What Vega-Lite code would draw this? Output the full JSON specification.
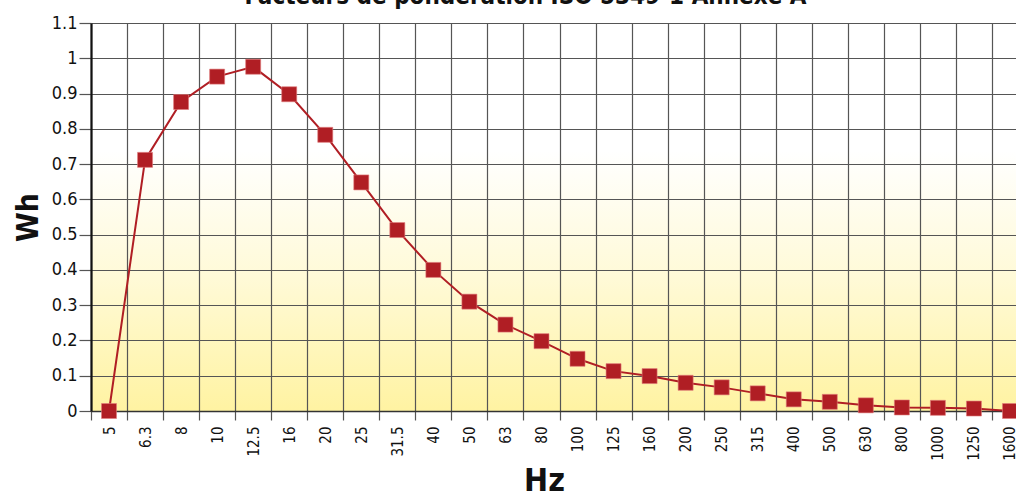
{
  "$schema": "https://vega.github.io/schema/vega-lite/v6.json",
  "autosize": {"type": "none"},
  "padding": {"left": 91, "top": 23, "right": 0, "bottom": 85},
  "width": 925,
  "height": 388,
  "background": "white",
  "title": {
    "text": "Facteurs de pondération ISO 5349-1 Annexe A",
    "font": "DejaVu Sans Condensed, sans-serif",
    "fontSize": 24,
    "fontWeight": "bold",
    "color": "#111111",
    "anchor": "middle",
    "offset": 0,
    "dx": -28,
    "dy": -5
  },
  "config": {
    "view": {
      "stroke": null,
      "fill": {
        "gradient": "linear",
        "x1": 0, "y1": 0, "x2": 0, "y2": 1,
        "stops": [
          {"offset": 0, "color": "#ffffff"},
          {"offset": 0.33, "color": "#ffffff"},
          {"offset": 0.65, "color": "#fffad8"},
          {"offset": 1, "color": "#fff3a2"}
        ]
      }
    },
    "axis": {
      "labelFont": "DejaVu Sans Condensed, sans-serif",
      "titleFont": "DejaVu Sans Condensed, sans-serif",
      "labelColor": "#111111",
      "titleColor": "#111111",
      "gridColor": "#555555",
      "gridWidth": 1.2,
      "gridOpacity": 1,
      "tickColor": "#555555",
      "tickWidth": 1.2
    }
  },
  "data": {
    "values": [
      {"hz": "5", "wh": 0},
      {"hz": "6.3", "wh": 0.712},
      {"hz": "8", "wh": 0.876},
      {"hz": "10", "wh": 0.948},
      {"hz": "12.5", "wh": 0.976},
      {"hz": "16", "wh": 0.898},
      {"hz": "20", "wh": 0.783},
      {"hz": "25", "wh": 0.648},
      {"hz": "31.5", "wh": 0.513},
      {"hz": "40", "wh": 0.4},
      {"hz": "50", "wh": 0.31},
      {"hz": "63", "wh": 0.245},
      {"hz": "80", "wh": 0.198},
      {"hz": "100", "wh": 0.148},
      {"hz": "125", "wh": 0.113},
      {"hz": "160", "wh": 0.099},
      {"hz": "200", "wh": 0.08},
      {"hz": "250", "wh": 0.067},
      {"hz": "315", "wh": 0.05},
      {"hz": "400", "wh": 0.033},
      {"hz": "500", "wh": 0.026},
      {"hz": "630", "wh": 0.016},
      {"hz": "800", "wh": 0.01},
      {"hz": "1000", "wh": 0.009},
      {"hz": "1250", "wh": 0.007},
      {"hz": "1600", "wh": 0}
    ]
  },
  "encoding": {
    "x": {
      "field": "hz",
      "type": "ordinal",
      "sort": null,
      "scale": {"type": "band", "range": [0, 937], "paddingInner": 0, "paddingOuter": 0},
      "axis": {
        "title": "Hz",
        "titleFontSize": 32,
        "titleFontWeight": "bold",
        "titleX": 453,
        "titleY": 54,
        "titleBaseline": "top",
        "labelAngle": -90,
        "labelFontSize": 15,
        "labelFontWeight": 500,
        "labelPadding": 6,
        "tickBand": "extent",
        "tickSize": 9,
        "grid": true,
        "domainColor": "#333333",
        "domainWidth": 1.5
      }
    },
    "y": {
      "field": "wh",
      "type": "quantitative",
      "scale": {"domain": [0, 1.1], "nice": false, "zero": true},
      "axis": {
        "title": "Wh",
        "titleFontSize": 30,
        "titleFontWeight": "bold",
        "titlePadding": 8,
        "values": [0, 0.1, 0.2, 0.3, 0.4, 0.5, 0.6, 0.7, 0.8, 0.9, 1, 1.1],
        "format": "~g",
        "labelFontSize": 18,
        "labelFontWeight": 500,
        "labelPadding": 2,
        "tickSize": 12,
        "domainColor": "#111111",
        "domainWidth": 2.2,
        "grid": true
      }
    }
  },
  "layer": [
    {
      "mark": {"type": "line", "color": "#b01e24", "strokeWidth": 2}
    },
    {
      "mark": {
        "type": "point",
        "shape": "square",
        "size": 225,
        "filled": true,
        "opacity": 1,
        "color": "#b01e24",
        "stroke": "#e07a7a",
        "strokeWidth": 0.6
      }
    }
  ]
}
